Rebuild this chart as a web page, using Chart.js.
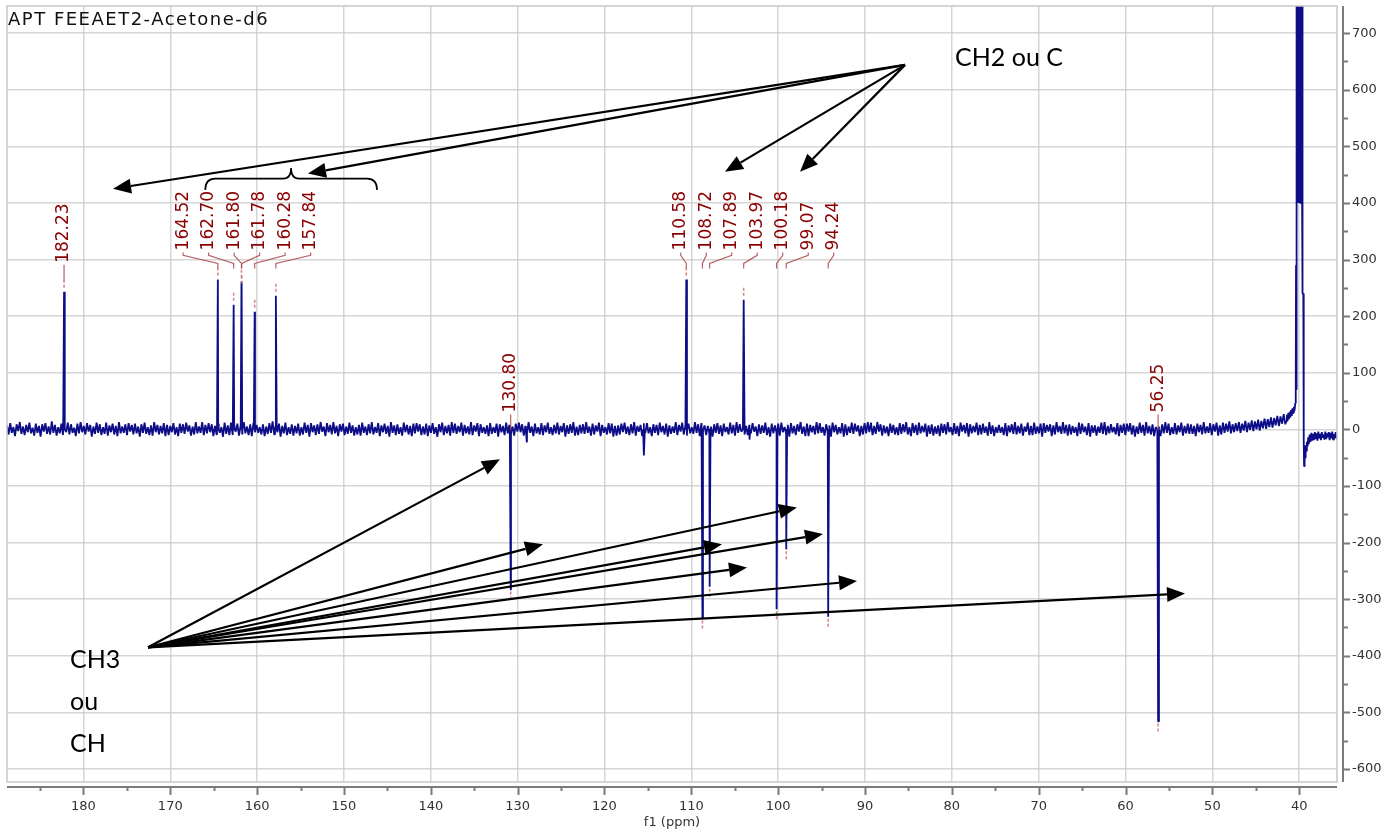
<!DOCTYPE html>
<html>
<head>
<meta charset="utf-8">
<script src="https://cdn.jsdelivr.net/npm/chart.js@4.4.1/dist/chart.umd.min.js"></script>
<style>
  html, body { margin: 0; padding: 0; background: #fff; }
  #wrap { position: relative; width: 1400px; height: 832px; }
</style>
</head>
<body>
<div id="wrap"><canvas id="apt" width="1400" height="832"></canvas></div>
<script>
// ---- APT 13C spectrum, FEEAET2 in acetone-d6 ----
const spectrumTitle = 'APT FEEAET2-Acetone-d6';
const axisTitle = 'f1 (ppm)';

// picked peaks (ppm) and their APT intensities (up: C / CH2, down: CH / CH3)
const peakShifts      = [182.23, 164.52, 162.70, 161.80, 161.78, 160.28, 157.84, 130.80, 110.58, 108.72, 107.89, 103.97, 100.18, 99.07, 94.24, 56.25];
const peakIntensities = [243,    265,    220,    261,    250,    208,    236,    -283,   265,    -334,   -278,   229,    -318,   -212,  -331,  -516];

// small unpicked signals
const minorShifts      = [128.95, 115.45, 103.30];
const minorIntensities = [-22,    -46,    -18];

// baseline trace, evenly sampled from baselineStart down to baselineEnd (ppm)
const baselineStart = 188.8;
const baselineEnd = 41.6;
const baselineNoise = [
  7,-9,11,-6,4,-12,9,-3,13,-8,5,-10,8,-5,12,-7,3,-11,10,-6,
  6,-13,9,-4,11,-8,5,-9,14,-6,8,-11,4,-7,10,-10,7,-5,12,-9,
  9,-6,3,-12,10,-7,13,-5,6,-9,11,-4,8,-13,5,-8,12,-6,9,-10,
  4,-8,12,-11,7,-5,10,-9,6,-12,13,-7,5,-6,9,-10,11,-4,8,-9,
  10,-7,5,-13,9,-6,12,-8,4,-10,7,-11,13,-5,8,-9,6,-7,11,-12,
  8,-10,6,-5,11,-9,4,-12,10,-6,9,-8,12,-4,7,-11,5,-9,13,-7,
  5,-6,13,-10,8,-7,11,-5,9,-12,6,-9,10,-6,4,-13,12,-8,7,-10,
  12,-9,7,-4,10,-11,6,-8,13,-7,5,-10,9,-12,11,-5,8,-6,4,-9,
  9,-12,5,-8,11,-6,14,-9,7,-5,10,-13,6,-7,12,-10,4,-8,9,-11,
  6,-7,10,-11,4,-9,12,-6,8,-13,11,-5,7,-10,9,-8,13,-4,5,-12,
  11,-5,8,-9,13,-7,6,-12,9,-4,10,-10,5,-8,12,-6,7,-11,4,-9,
  8,-11,12,-6,5,-10,9,-7,13,-9,4,-6,11,-12,7,-5,10,-8,6,-13,
  13,-6,7,-10,9,-8,4,-11,12,-5,8,-9,6,-12,10,-7,11,-4,9,-10,
  5,-9,10,-12,7,-6,11,-8,4,-13,9,-5,12,-10,6,-7,8,-11,13,-6,
  10,-8,6,-5,12,-11,8,-7,5,-9,13,-10,7,-4,11,-12,9,-6,4,-8,
  7,-12,11,-8,4,-6,10,-13,9,-5,6,-10,12,-7,8,-9,5,-11,10,-4,
  12,-5,9,-11,6,-8,13,-6,5,-12,10,-7,4,-9,11,-10,7,-5,12,-8,
  4,-10,8,-7,12,-9,6,-5,11,-13,7,-8,9,-6,13,-11,5,-10,8,-7,
  9,-8,13,-6,5,-11,10,-9,7,-4,12,-12,8,-6,4,-9,11,-7,10,-13,
  6,-11,7,-9,10,-5,12,-8,5,-10,9,-7,13,-11,6,-4,8,-12,11,-6,
  11,-7,4,-12,9,-6,8,-10,12,-5,6,-9,10,-13,7,-8,5,-6,13,-10,
  8,-4,12,-9,6,-11,10,-7,4,-8,13,-6,9,-12,11,-5,7,-10,6,-9,
  5,-13,9,-6,11,-8,7,-12,10,-5,4,-9,12,-7,8,-11,13,-6,9,-4,
  13,-9,6,-10,8,-7,11,-4,5,-12,9,-8,7,-6,12,-10,4,-13,10,-7,
  7,-6,10,-11,12,-5,4,-9,8,-13,11,-7,6,-10,9,-4,13,-8,5,-12,
  10,-12,8,-5,6,-9,13,-7,11,-6,4,-11,9,-8,7,-13,12,-5,8,-9,
  4,-7,11,-13,9,-10,5,-6,12,-8,10,-4,7,-12,6,-9,11,-7,13,-5,
  12,-10,6,-8,13,-4,9,-11,7,-7,5,-12,10,-6,8,-9,4,-10,11,-8,
  9,-5,13,-9,4,-12,11,-6,8,-10,12,-7,6,-5,10,-13,7,-8,9,-11,
  5,-8,7,-12,10,-6,9,-9,13,-5,4,-10,11,-8,6,-12,12,-4,8,-7,
  11,-13,9,-7,6,-5,12,-10,8,-9,10,-6,5,-11,13,-8,7,-12,4,-6,
  8,-6,4,-10,11,-12,7,-5,9,-8,13,-9,6,-7,10,-11,5,-4,12,-10,
  6,-10,12,-8,5,-7,10,-13,11,-6,8,-4,9,-12,7,-9,13,-5,6,-8,
  13,-7,8,-11,9,-9,6,-6,4,-12,12,-8,10,-5,5,-10,11,-13,7,-6,
  7,-11,5,-6,12,-8,13,-10,6,-7,9,-5,4,-9,11,-12,8,-6,10,-10,
  10,-4,11,-9,7,-13,5,-8,12,-6,8,-11,13,-7,6,-9,9,-12,4,-5,
  5,-12,9,-7,13,-6,10,-10,4,-8,11,-9,7,-5,12,-11,6,-7,10,-8,
  9,-8,6,-12,10,-5,8,-9,13,-7,5,-6,11,-10,9,-4,12,-11,7,-9,
  12,-6,10,-4,14,-7,9,-5,11,-3,13,-6,10,-2,15,-5,12,-1,16,-3,
  14,0,17,-2,15,2,19,1,18,4,21,3,20,7,24,6,23,10,27,9
];

// solvent multiplet and the trace to the right of it
const solventShifts = [
  41.5, 41.42, 41.34, 41.26, 41.18, 41.1, 41.02, 40.94, 40.86, 40.78, 40.7, 40.62, 40.54, 40.46, 40.4,
  40.37, 40.34, 40.3, 40.27, 40.24, 40.21, 40.18, 40.15, 40.12, 40.09, 40.06, 40.03, 40.0, 39.97, 39.94,
  39.91, 39.88, 39.85, 39.82, 39.79, 39.76, 39.73, 39.7, 39.67, 39.64, 39.6, 39.53, 39.48, 39.44, 39.38,
  39.32, 39.26, 39.2, 39.12, 39.04, 38.96, 38.9, 38.8, 38.7, 38.6, 38.5, 38.4, 38.3, 38.2, 38.1,
  38.0, 37.9, 37.8, 37.7, 37.6, 37.5, 37.4, 37.3, 37.2, 37.1, 37.0, 36.9, 36.8, 36.7, 36.6,
  36.5, 36.4, 36.3, 36.2, 36.1, 36.0, 35.9, 35.8, 35.7, 35.65
];
const solventIntensities = [
  14, 26, 15, 29, 18, 31, 21, 34, 24, 37, 29, 40, 33, 46, 60,
  290, 70, 1500, 300, 3000, 400, 3000, 400, 3000, 400, 3000, 400, 3000, 400, 3000,
  400, 3000, 400, 3000, 400, 3000, 400, 3000, 400, 1500, 240, 240, -20, -65, -40,
  -50, -28, -38, -22, -30, -14, -26, -9, -22, -6, -20, -8, -19, -5, -17,
  -7, -20, -4, -16, -8, -19, -5, -15, -9, -18, -4, -17, -7, -14, -5,
  -19, -6, -16, -4, -18, -8, -15, -5, -17, -12
];

// axis ranges
const ppmMin = 35.65, ppmMax = 188.8;
const intensityMin = -623, intensityMax = 748;

// hand annotations (ppm, intensity)
const upperNote = 'CH2 ou C';
const upperNoteAt = [79.63, 657];
const upperArrowFrom = [85.39, 644];
const upperArrowTo = [[176.59, 425], [154.14, 452], [106.12, 455], [97.48, 455]];
const braceLeft = [165.97, 423];
const braceRight = [146.19, 423];
const braceTip = [156.09, 462];
const braceBar = 443;

const lowerNote = ['CH3', 'ou', 'CH'];
const lowerNoteAt = [[181.54, -407], [181.54, -481], [181.54, -555]];
const lowerArrowFrom = [172.56, -385];
const lowerArrowTo = [[132.03, -53], [127.08, -203], [106.47, -203], [97.84, -138], [94.84, -185], [103.59, -244], [90.92, -268], [53.15, -290]];

// ---- build the trace ----
function buildTrace() {
  const pts = [];
  const step = (baselineStart - baselineEnd) / (baselineNoise.length - 1);
  baselineNoise.forEach((v, i) => pts.push({ x: baselineStart - i * step, y: v }));
  const spike = (p, h) => {
    pts.push({ x: p + 0.1, y: 0 });
    pts.push({ x: p, y: h });
    pts.push({ x: p - 0.1, y: 0 });
  };
  peakShifts.forEach((p, i) => spike(p, peakIntensities[i]));
  minorShifts.forEach((p, i) => spike(p, minorIntensities[i]));
  solventShifts.forEach((p, i) => pts.push({ x: p, y: solventIntensities[i] }));
  pts.sort((a, b) => b.x - a.x);
  return pts;
}

const gridColor = 'rgba(200,200,200,0.75)';
const tickFont = { family: 'DejaVu Sans', size: 13 };
const tickColor = '#333';

// frame, axis lines and tick marks
const axesPlugin = {
  id: 'axesPlugin',
  afterDraw(chart) {
    const { ctx, chartArea: a, scales: { x, y } } = chart;
    ctx.save();
    ctx.strokeStyle = '#c8c8c8';
    ctx.lineWidth = 1.5;
    ctx.strokeRect(a.left, a.top, a.right - a.left, a.bottom - a.top);

    ctx.strokeStyle = '#7a7a7a';
    ctx.lineWidth = 2;
    const ax = a.bottom + 5;
    ctx.beginPath();
    ctx.moveTo(a.left, ax); ctx.lineTo(a.right, ax);
    x.ticks.forEach(t => {
      const px = Math.round(x.getPixelForValue(t.value)) + 0.5;
      const len = t.value % 10 === 0 ? 8 : 4;
      ctx.moveTo(px, ax); ctx.lineTo(px, ax + len);
    });
    ctx.stroke();

    const ay = a.right + 6;
    ctx.beginPath();
    ctx.moveTo(ay, a.top); ctx.lineTo(ay, a.bottom);
    y.ticks.forEach(t => {
      const py = Math.round(y.getPixelForValue(t.value)) + 0.5;
      const len = t.value % 100 === 0 ? 7 : 5;
      ctx.moveTo(ay, py); ctx.lineTo(ay + len, py);
    });
    ctx.stroke();

    ctx.fillStyle = '#111';
    ctx.font = '18px "DejaVu Sans"';
    ctx.letterSpacing = '1.5px';
    ctx.textAlign = 'left';
    ctx.textBaseline = 'alphabetic';
    ctx.fillText(spectrumTitle, a.left + 1, a.top + 19);
    ctx.restore();
  }
};

// peak labels with leader lines
const peakLabelPlugin = {
  id: 'peakLabelPlugin',
  afterDatasetsDraw(chart) {
    const { ctx, scales: { x, y } } = chart;
    const spacing = 25.5;
    const items = peakShifts.map((p, i) => ({ p, h: peakIntensities[i], px: x.getPixelForValue(p) }))
      .sort((a, b) => a.px - b.px);
    const clusters = items.map(it => ({ members: [it] }));
    const place = c => {
      const lo = c.members[0].px, hi = c.members[c.members.length - 1].px;
      const mid = (lo + hi) / 2, n = c.members.length;
      c.members.forEach((m, k) => { m.lx = mid + (k - (n - 1) / 2) * spacing; });
    };
    clusters.forEach(place);
    let merged = true;
    while (merged) {
      merged = false;
      for (let i = 0; i < clusters.length - 1; i++) {
        const A = clusters[i], B = clusters[i + 1];
        const aEnd = A.members[A.members.length - 1].lx;
        const bStart = B.members[0].lx;
        if (bStart - aEnd < spacing * 1.15) {
          A.members = A.members.concat(B.members);
          place(A);
          clusters.splice(i + 1, 1);
          merged = true;
          break;
        }
      }
    }
    const y0 = y.getPixelForValue(0);
    ctx.save();
    clusters.forEach(c => {
      const maxH = Math.max(...c.members.map(m => m.h));
      const lb = maxH > 0 ? y.getPixelForValue(maxH) - 29 : y0 - 17;
      c.members.forEach(m => {
        ctx.strokeStyle = 'rgba(170,70,70,0.85)';
        ctx.lineWidth = 1.2;
        ctx.setLineDash([]);
        ctx.beginPath();
        ctx.moveTo(m.lx, lb + 2);
        ctx.lineTo(m.lx, lb + 5);
        ctx.lineTo(m.px, lb + 13);
        ctx.lineTo(m.px, lb + 18);
        ctx.stroke();
        const ty = y.getPixelForValue(m.h);
        ctx.strokeStyle = 'rgba(200,110,110,0.85)';
        ctx.lineWidth = 1.5;
        ctx.setLineDash([3, 2]);
        ctx.beginPath();
        if (m.h > 0) { ctx.moveTo(m.px, ty - 12); ctx.lineTo(m.px, ty - 2); }
        else { ctx.moveTo(m.px, ty + 2); ctx.lineTo(m.px, ty + 12); }
        ctx.stroke();
        ctx.setLineDash([]);
        ctx.save();
        ctx.translate(m.lx, lb);
        ctx.rotate(-Math.PI / 2);
        ctx.fillStyle = '#8b0000';
        ctx.font = '17px "DejaVu Sans"';
        ctx.textAlign = 'left';
        ctx.textBaseline = 'middle';
        ctx.fillText(m.p.toFixed(2), 0, 0);
        ctx.restore();
      });
    });
    ctx.restore();
  }
};

// arrows, brace and group notes
const notesPlugin = {
  id: 'notesPlugin',
  afterDraw(chart) {
    const { ctx, scales: { x, y } } = chart;
    const P = v => [x.getPixelForValue(v[0]), y.getPixelForValue(v[1])];
    const arrow = (from, to) => {
      const [x1, y1] = P(from), [x2, y2] = P(to);
      const ang = Math.atan2(y2 - y1, x2 - x1);
      const L = 18, W = 7.5;
      const bx = x2 - L * Math.cos(ang), by = y2 - L * Math.sin(ang);
      ctx.beginPath(); ctx.moveTo(x1, y1); ctx.lineTo(bx, by); ctx.stroke();
      ctx.beginPath();
      ctx.moveTo(x2, y2);
      ctx.lineTo(bx + W * Math.sin(ang), by - W * Math.cos(ang));
      ctx.lineTo(bx - W * Math.sin(ang), by + W * Math.cos(ang));
      ctx.closePath(); ctx.fill();
    };
    ctx.save();
    ctx.strokeStyle = '#000';
    ctx.fillStyle = '#000';
    ctx.lineWidth = 2.2;
    upperArrowTo.forEach(t => arrow(upperArrowFrom, t));
    lowerArrowTo.forEach(t => arrow(lowerArrowFrom, t));

    // curly brace over the 157-165 ppm group
    const [lx, ly] = P(braceLeft), [rx, ry] = P(braceRight), [cx, cy] = P(braceTip);
    const by = y.getPixelForValue(braceBar);
    ctx.lineWidth = 1.6;
    ctx.beginPath();
    ctx.moveTo(lx, ly);
    ctx.quadraticCurveTo(lx, by, lx + 10, by);
    ctx.lineTo(cx - 8, by);
    ctx.quadraticCurveTo(cx, by, cx, cy);
    ctx.quadraticCurveTo(cx, by, cx + 8, by);
    ctx.lineTo(rx - 10, by);
    ctx.quadraticCurveTo(rx, by, rx, ry);
    ctx.stroke();

    ctx.font = '25px Lato';
    ctx.textAlign = 'left';
    ctx.textBaseline = 'middle';
    const [ux, uy] = P(upperNoteAt);
    ctx.fillText(upperNote, ux, uy);
    lowerNote.forEach((s, i) => {
      const [nx, ny] = P(lowerNoteAt[i]);
      ctx.fillText(s, nx, ny);
    });
    ctx.restore();
  }
};

new Chart(document.getElementById('apt'), {
  type: 'line',
  data: {
    datasets: [{
      data: buildTrace(),
      borderColor: '#0d0d88',
      borderWidth: 1.8,
      borderJoinStyle: 'bevel',
      pointRadius: 0,
      tension: 0,
      fill: false
    }]
  },
  options: {
    responsive: false,
    animation: false,
    devicePixelRatio: 1,
    parsing: false,
    normalized: true,
    layout: { padding: { left: 7, top: 6, right: 0, bottom: 0 } },
    plugins: { legend: { display: false }, tooltip: { enabled: false }, title: { display: false } },
    scales: {
      x: {
        type: 'linear',
        reverse: true,
        min: ppmMin,
        max: ppmMax,
        afterFit(s) { s.height = 50; s.paddingLeft = 0; s.paddingRight = 0; },
        border: { display: false },
        grid: {
          color: c => (c.tick && c.tick.value % 10 === 0 ? gridColor : 'transparent'),
          lineWidth: 1.5,
          drawTicks: false
        },
        ticks: {
          stepSize: 5,
          includeBounds: false,
          autoSkip: false,
          maxRotation: 0,
          padding: 17,
          color: tickColor,
          font: tickFont,
          callback: v => (v % 10 === 0 ? String(v) : '')
        },
        title: {
          display: true,
          text: axisTitle,
          color: tickColor,
          font: tickFont,
          padding: { top: 0, bottom: 2 }
        }
      },
      y: {
        type: 'linear',
        position: 'right',
        min: intensityMin,
        max: intensityMax,
        afterFit(s) { s.width = 63; s.paddingTop = 0; s.paddingBottom = 0; },
        border: { display: false },
        grid: {
          color: c => (c.tick && c.tick.value % 100 === 0 ? gridColor : 'transparent'),
          lineWidth: 1.5,
          drawTicks: false
        },
        ticks: {
          stepSize: 50,
          includeBounds: false,
          autoSkip: false,
          padding: 15,
          color: tickColor,
          font: tickFont,
          callback: v => (v % 100 === 0 ? String(v) : '')
        }
      }
    }
  },
  plugins: [axesPlugin, peakLabelPlugin, notesPlugin]
});
</script>
</body>
</html>
